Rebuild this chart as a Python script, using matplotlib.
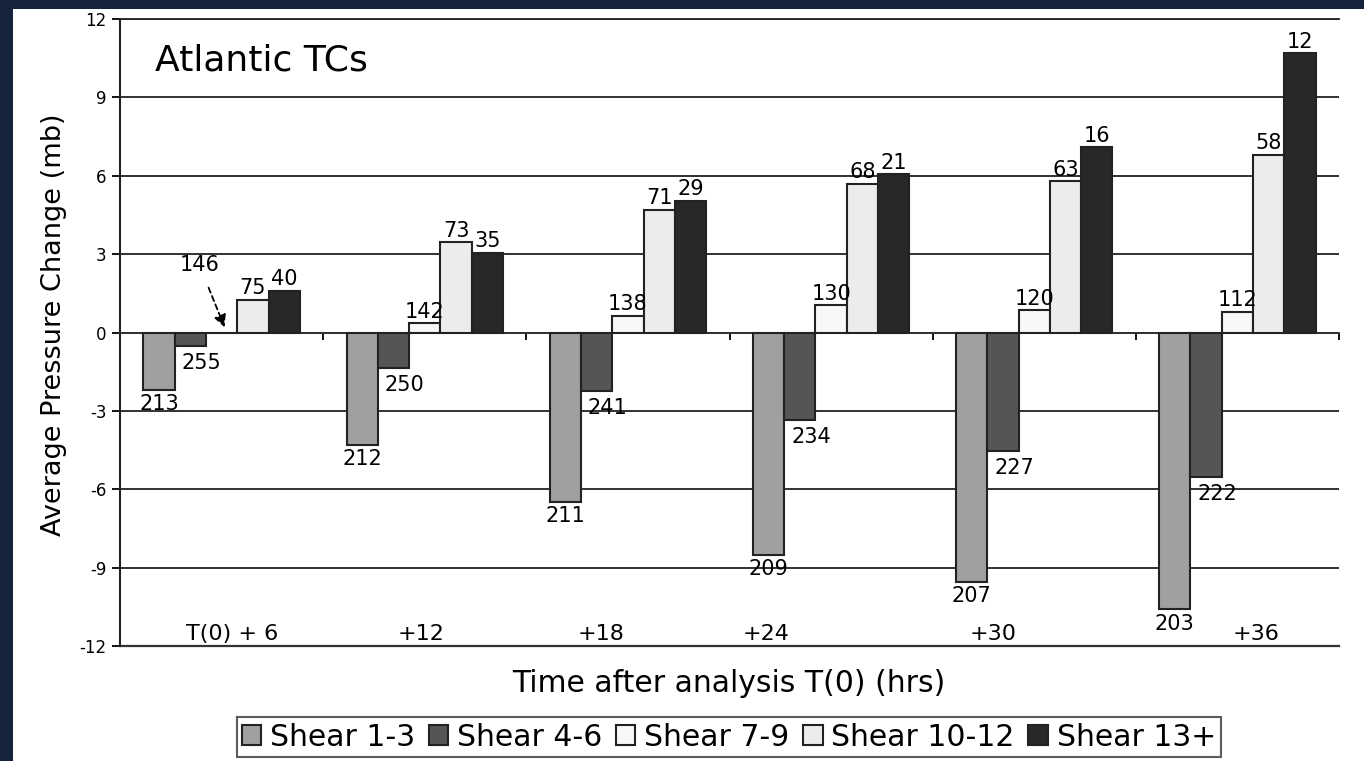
import numpy as np
import matplotlib
matplotlib.use("Agg")
import matplotlib.pyplot as plt
from matplotlib.patches import Rectangle

plt.rcParams['font.family'] = ['DejaVu Sans']
plt.rcParams['axes.unicode_minus'] = False

# data
categories = ['T(0) + 6', '+12', '+18', '+24', '+30', '+36']
series = ['Shear 1-3', 'Shear 4-6', 'Shear 7-9', 'Shear 10-12', 'Shear 13+']
shear_1_3 = [-2.2, -4.3, -6.5, -8.5, -9.55, -10.6]
shear_4_6 = [-0.5, -1.35, -2.25, -3.35, -4.55, -5.55]
shear_7_9 = [0.0, 0.35, 0.65, 1.05, 0.85, 0.8]
shear_10_12 = [1.25, 3.45, 4.7, 5.7, 5.8, 6.8]
shear_13p = [1.6, 3.05, 5.05, 6.05, 7.1, 10.7]
n_1_3 = [213, 212, 211, 209, 207, 203]
n_4_6 = [255, 250, 241, 234, 227, 222]
n_7_9 = [146, 142, 138, 130, 120, 112]
n_10_12 = [75, 73, 71, 68, 63, 58]
n_13p = [40, 35, 29, 21, 16, 12]
yticks = [-12, -9, -6, -3, 0, 3, 6, 9, 12]

values = [shear_1_3, shear_4_6, shear_7_9, shear_10_12, shear_13p]
counts = [n_1_3, n_4_6, n_7_9, n_10_12, n_13p]
colors = ['#a0a0a0', '#555555', '#f8f8f8', '#ececec', '#282828']

fig = plt.figure(figsize=(13.64, 7.61), dpi=100, facecolor='white')
# dark slide border on the left and top
navy = '#16233d'
fig.patches.append(Rectangle((0, 0), 13 / 1364, 1, transform=fig.transFigure,
                             facecolor=navy, edgecolor='none', zorder=-1))
fig.patches.append(Rectangle((0, 1 - 9 / 761), 1, 9 / 761, transform=fig.transFigure,
                             facecolor=navy, edgecolor='none', zorder=-1))

ax = fig.add_axes([120 / 1364, 1 - 646 / 761, (1339 - 120) / 1364, (646 - 19) / 761])
ax.set_facecolor('none')

x = np.arange(len(categories))
w = 0.154
for k in range(5):
    pos = x + (k - 2) * w
    ax.bar(pos, values[k], width=w, color=colors[k], edgecolor='#222222',
           linewidth=1.5, label=series[k], zorder=3)
    for i in range(len(categories)):
        v = values[k][i]
        if k == 2 and i == 0:
            continue
        if v >= 0:
            ax.annotate(str(counts[k][i]), (pos[i], v), xytext=(0, 1), textcoords='offset points',
                        ha='center', va='bottom', fontsize=15, zorder=4)
        elif k == 1:
            ax.annotate(str(counts[k][i]), (pos[i], v), xytext=(8, -5), textcoords='offset points',
                        ha='center', va='top', fontsize=15, zorder=4)
        else:
            ax.annotate(str(counts[k][i]), (pos[i], v), xytext=(0, -3), textcoords='offset points',
                        ha='center', va='top', fontsize=15, zorder=4)

# the first Shear 7-9 count is pointed to with a dashed arrow
ax.annotate(str(n_7_9[0]), xy=(0.015, 0.2), xytext=(-0.11, 2.6), ha='center', va='center',
            fontsize=15, zorder=4,
            arrowprops=dict(arrowstyle='-|>', linestyle=(0, (3, 2)), color='black',
                            lw=1.3, mutation_scale=18, shrinkA=8, shrinkB=0))

# category labels sit inside the plot, just above the bottom
cat_x = [0.05, 0.98, 1.87, 2.68, 3.8, 5.09]
for cx, lab in zip(cat_x, categories):
    ax.text(cx, -11.55, lab, ha='center', va='center', fontsize=16, zorder=4)

ax.text(-0.33, 10.4, 'Atlantic TCs', ha='left', va='center', fontsize=26, zorder=4)

ax.set_xlim(-0.5, len(categories) - 0.5)
ax.set_ylim(-12, 12)
ax.set_yticks(yticks)
ax.tick_params(axis='y', labelsize=12, length=6, width=1.3, direction='out')
ax.set_xticks(np.arange(len(categories) + 1) - 0.5)
ax.set_xticklabels([])
ax.tick_params(axis='x', length=5, width=1.3, direction='out')
ax.yaxis.grid(True, color='#222222', linewidth=1.3)
ax.set_axisbelow(True)
ax.spines['bottom'].set_position(('data', 0))
ax.spines['bottom'].set_linewidth(1.3)
ax.spines['bottom'].set_color('#333333')
ax.spines['left'].set_linewidth(1.5)
ax.spines['left'].set_color('#222222')
ax.spines['top'].set_visible(False)
ax.spines['right'].set_visible(False)
ax.axhline(-12, color='#333333', lw=1.6, clip_on=False, zorder=2)
ax.axhline(12, color='#222222', lw=1.3, clip_on=False, zorder=2)

fig.text(729 / 1364, 1 - 683 / 761, 'Time after analysis T(0) (hrs)', ha='center', va='center', fontsize=21.5)
fig.text(54 / 1364, 1 - 325 / 761, 'Average Pressure Change (mb)', ha='center', va='center',
         rotation=90, fontsize=19.5)

leg = fig.legend(loc='center', bbox_to_anchor=(729 / 1364, 1 - 737 / 761), ncol=5, fontsize=21.5,
                 frameon=True, fancybox=False, edgecolor='#333333', handlelength=0.65,
                 handleheight=0.65, handletextpad=0.3, columnspacing=0.45, borderpad=0.18,
                 borderaxespad=0)
leg.get_frame().set_linewidth(1.5)

fig.savefig('out.png', dpi=100, facecolor=fig.get_facecolor())
